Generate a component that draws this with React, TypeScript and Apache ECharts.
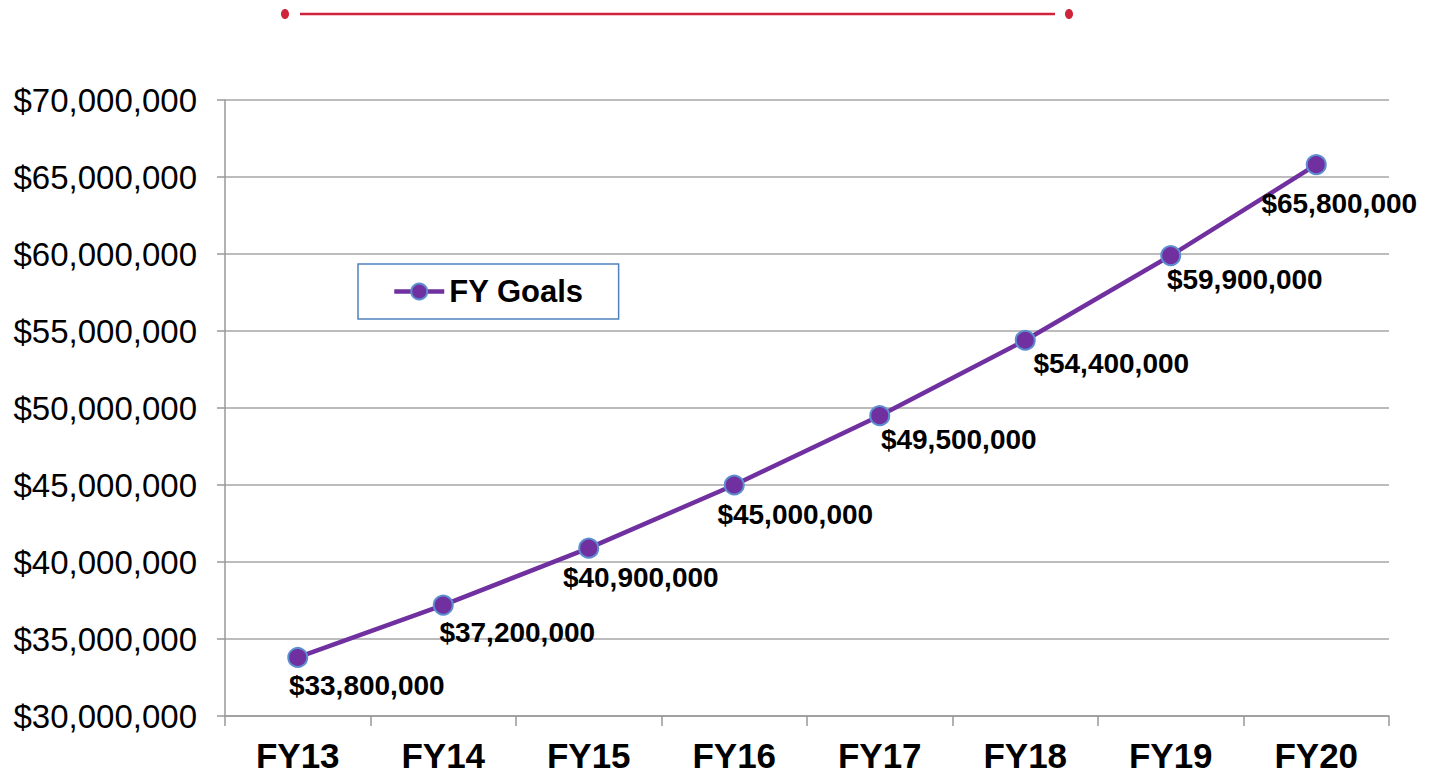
import React, { useEffect, useRef } from "react";
import * as echarts from "echarts";

const categories = ["FY13", "FY14", "FY15", "FY16", "FY17", "FY18", "FY19", "FY20"];
const goals = [33800000, 37200000, 40900000, 45000000, 49500000, 54400000, 59900000, 65800000];
const yMin = 30000000;
const yMax = 70000000;
const yStep = 5000000;

// label placement tweaks (layout only)
const labelDx = [69, 74, 52, 61, 79, 86, 74, 23];
const labelDy = [-1, -2, 0, 0, -6, -6, -6, 9];

const money = (v: number) => "$" + Math.round(v).toLocaleString("en-US");

export default function App() {
  const ref = useRef<HTMLDivElement>(null);
  useEffect(() => {
    if (!ref.current) return;
    const chart = echarts.init(ref.current, null, { renderer: "svg" });
    const font = "'Liberation Sans', Arial, sans-serif";
    chart.setOption({
      animation: false,
      backgroundColor: "#ffffff",
      textStyle: { fontFamily: font },
      grid: { left: 225, right: 41, top: 100, bottom: 60, containLabel: false },
      legend: {
        left: 358,
        top: 264,
        orient: "horizontal",
        backgroundColor: "#ffffff",
        borderColor: "#4f81bd",
        borderWidth: 1.5,
        borderRadius: 0,
        padding: [12, 35, 12, 34],
        itemWidth: 50,
        itemHeight: 20,
        lineStyle: { width: 4.5, color: "#7030a0" },
        textStyle: { fontFamily: font, fontSize: 31, fontWeight: "bold", color: "#000" },
        data: ["FY Goals"],
      },
      xAxis: {
        type: "category",
        data: categories,
        boundaryGap: true,
        axisLine: { show: true, lineStyle: { color: "#999999", width: 1.5 } },
        axisTick: { show: true, length: 10, lineStyle: { color: "#999999", width: 1.5 } },
        axisLabel: {
          fontFamily: font,
          fontSize: 35,
          lineHeight: 34,
          fontWeight: "bold",
          color: "#000",
          margin: 22,
        },
      },
      yAxis: {
        type: "value",
        min: yMin,
        max: yMax,
        interval: yStep,
        axisLine: { show: true, lineStyle: { color: "#999999", width: 1.5 } },
        axisTick: { show: true, inside: false, length: 8, lineStyle: { color: "#999999", width: 1.5 } },
        splitLine: { show: true, lineStyle: { color: "#a6a6a6", width: 1.5 } },
        axisLabel: { fontFamily: font, fontSize: 33, color: "#000", margin: 28, formatter: (v: number) => money(v) },
      },
      series: [
        {
          name: "FY Goals",
          type: "line",
          data: goals.map((v, i) => ({
            value: v,
            label: { offset: [labelDx[i], labelDy[i]] },
          })),
          symbol: "circle",
          symbolSize: 19,
          lineStyle: { color: "#7030a0", width: 4.5 },
          itemStyle: { color: "#7030a0", borderColor: "#5b8fd0", borderWidth: 2 },
          label: {
            show: true,
            position: "bottom",
            distance: 5,
            fontFamily: font,
            fontSize: 28,
            fontWeight: "bold",
            color: "#000",
            formatter: (p: any) => money(p.value),
          },
        },
      ],
      graphic: [
        { type: "line", shape: { x1: 300, y1: 14, x2: 1055, y2: 14 }, style: { stroke: "#d0223a", lineWidth: 2.5 } },
        { type: "ellipse", shape: { cx: 285, cy: 14, rx: 4, ry: 5 }, style: { fill: "#d0223a" } },
        { type: "ellipse", shape: { cx: 1069, cy: 14, rx: 4, ry: 5 }, style: { fill: "#d0223a" } },
      ],
    });
    return () => chart.dispose();
  }, []);
  return (
    <div
      ref={ref}
      style={{ position: "absolute", left: 0, top: 0, width: 1430, height: 776, background: "#fff" }}
    />
  );
}
